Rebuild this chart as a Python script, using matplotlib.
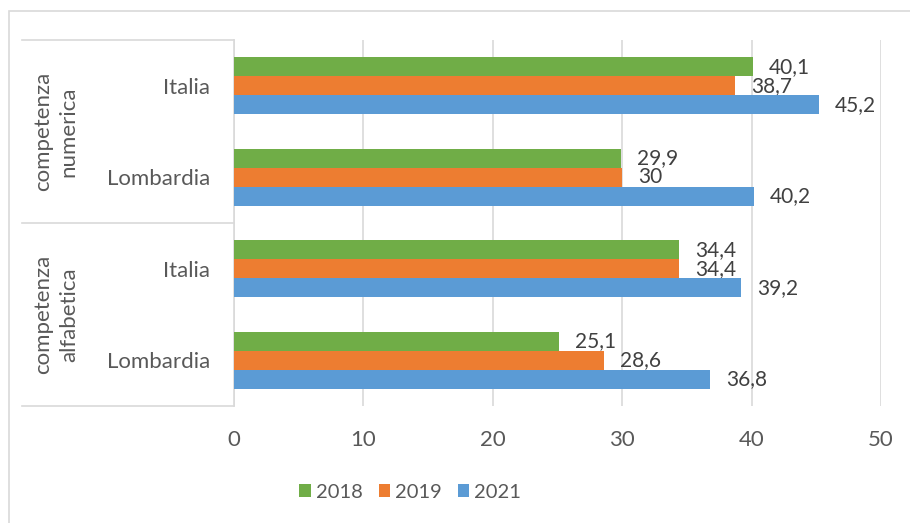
import numpy as np
import matplotlib
matplotlib.use("Agg")
import matplotlib.pyplot as plt
from matplotlib.lines import Line2D
from matplotlib.patches import Rectangle

plt.rcParams['font.family'] = ['Lato', 'DejaVu Sans']

categories = ["Italia", "Lombardia", "Italia", "Lombardia"]
groups = ["competenza\nnumerica", "competenza\nalfabetica"]
years = ["2018", "2019", "2021"]
v2018 = [40.1, 29.9, 34.4, 25.1]
v2019 = [38.7, 30, 34.4, 28.6]
v2021 = [45.2, 40.2, 39.2, 36.8]
colors = ["#70AD47", "#ED7D31", "#5B9BD5"]

W, H = 910, 523
fig = plt.figure(figsize=(W / 100, H / 100), dpi=100)
ax = fig.add_axes([234 / W, 1 - 406 / H, (881 - 234) / W, (406 - 40) / H])

y = np.arange(len(categories))
h = 0.208
for i, (vals, c, lab) in enumerate(zip([v2018, v2019, v2021], colors, years)):
    pos = y + (i - 1) * h
    ax.barh(pos, vals, height=h, color=c, label=lab, zorder=3)
    for p, v in zip(pos, vals):
        txt = ("%g" % v).replace(".", ",")
        ax.annotate(txt, (v, p), xytext=(16, 0), textcoords="offset pixels",
                    va="center", ha="left", fontsize=15, color="#404040")

ax.set_xlim(0, 50)
ax.set_ylim(3.5, -0.5)
ax.set_xticks(range(0, 51, 10))
ax.set_yticks(y)
ax.set_yticklabels(categories)
ax.tick_params(axis="y", length=0, pad=17, labelsize=16, labelcolor="#595959")
ax.tick_params(axis="x", length=0, pad=17, labelsize=16, labelcolor="#595959")
ax.grid(axis="x", color="#D9D9D9", linewidth=1.2, zorder=0)
for s in ["top", "right", "bottom"]:
    ax.spines[s].set_visible(False)
ax.spines["left"].set_color("#D9D9D9")
ax.spines["left"].set_linewidth(1.2)

# group separators on the category axis
for yy in [40, 223, 406]:
    fig.add_artist(Line2D([22 / W, 234 / W], [1 - yy / H, 1 - yy / H],
                          color="#D9D9D9", linewidth=1.2))
for g, (ya, yb) in zip(groups, [(40, 223), (223, 406)]):
    fig.text(56 / W, 1 - (ya + yb) / 2 / H, g, rotation=90, ha="center",
             va="center", fontsize=16, color="#595959", linespacing=1.35)

# chart border
fig.add_artist(Rectangle((9 / W, -0.01), 1.0, 1 - 11 / H + 0.01, fill=False,
                         edgecolor="#D9D9D9", linewidth=1.2))

fig.legend(loc="center", bbox_to_anchor=(410 / W, 1 - 492 / H), ncol=3,
           frameon=False, fontsize=14.5, handlelength=0.55, handleheight=0.65,
           handletextpad=0.25, columnspacing=0.8, labelcolor="#595959")

fig.savefig("out.png", dpi=100, facecolor="white")
